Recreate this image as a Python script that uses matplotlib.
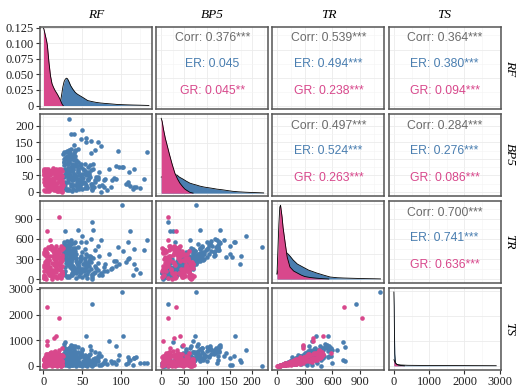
import matplotlib
matplotlib.use('Agg')
import matplotlib.pyplot as plt
from matplotlib.ticker import FixedLocator

plt.rcParams['font.family'] = ['Liberation Serif', 'DejaVu Serif']

# ---------------- data ----------------
variables = ['RF', 'BP5', 'TR', 'TS']
pink = '#D8488C'
blue = '#4A7EB0'
gray_txt = '#6B6B6B'

# ER group (blue)
er_rf = [26, 28, 31, 33, 35, 37, 39, 41, 43, 45,
         27, 29, 30, 32, 34, 36, 38, 40, 42, 44,
         46, 48, 50, 52, 54, 56, 58, 60, 62, 64,
         26, 30, 34, 38, 42, 47, 51, 55, 59, 63,
         27, 31, 35, 39, 44, 49, 53, 57, 61, 66,
         29, 33, 37, 41, 45, 50, 55, 60, 65, 68,
         28, 32, 36, 40, 46, 52, 57, 62, 70, 75,
         26, 29, 33, 37, 43, 48, 54, 59, 72, 78,
         25.5, 27.5, 29.5, 31.5, 33.5, 35.5, 37.5, 39.5, 41.5, 43.5,
         25.8, 28.5, 30.5, 32.5, 34.5, 36.5, 38.5, 40.5, 42.5, 46.5,
         26.2, 28.2, 31.2, 33.2, 35.2, 37.2, 39.2, 41.2, 44.2, 48.5,
         27, 29, 31, 33, 36, 38, 40, 43, 47, 51,
         26.5, 30, 34, 37, 41, 45, 49, 53, 56, 58,
         28, 32, 35, 39, 42, 46, 50, 54, 58, 63,
         101, 62, 33, 35, 39, 50, 55, 61, 70, 74, 96, 133, 61, 67, 85, 93, 98,
         103, 117, 130, 91, 93, 109, 111, 117, 119, 78, 82, 74, 87, 72, 70, 67,
         80, 89, 61, 109, 106, 28, 35, 64, 110, 45, 40, 48, 55, 30, 116, 124]
er_bp5 = [120, 15, 95, 60, 130, 35, 80, 110, 20, 70,
          45, 105, 5, 85, 115, 25, 65, 100, 40, 90,
          10, 75, 55, 30, 85, 15, 60, 45, 25, 70,
          80, 125, 50, 10, 95, 35, 70, 20, 50, 5,
          100, 30, 75, 118, 60, 85, 12, 40, 65, 30,
          55, 90, 20, 125, 40, 8, 50, 80, 15, 45,
          70, 45, 108, 55, 25, 65, 35, 10, 40, 22,
          90, 60, 128, 2, 78, 48, 28, 58, 18, 35,
          65, 10, 100, 40, 125, 75, 20, 55, 88, 30,
          115, 50, 85, 5, 105, 62, 35, 128, 48, 15,
          90, 30, 70, 112, 18, 98, 45, 78, 60, 25,
          52, 122, 8, 92, 38, 68, 108, 14, 80, 42,
          28, 58, 118, 85, 22, 65, 35, 55, 12, 75,
          102, 72, 45, 95, 5, 50, 28, 62, 40, 18,
          76, 16, 221, 174, 175, 187, 163, 155, 151, 138, 125, 122, 118, 128, 70, 79, 76,
          74, 70, 40, 43, 40, 23, 19, 14, 16, 16, 6, 1, 14, 60, 45, 36,
          40, 36, 25, 30, 25, 25, 63, 85, 60, 130, 143, 160, 150, 110, 10, 12]
er_tr = [480, 120, 300, 420, 540, 60, 380, 420, 250, 200,
         300, 510, 40, 280, 350, 180, 460, 330, 90, 480,
         150, 300, 400, 130, 450, 20, 250, 350, 80, 320,
         520, 440, 180, 90, 380, 270, 150, 190, 280, 10,
         560, 230, 420, 360, 120, 340, 60, 200, 260, 110,
         330, 500, 150, 470, 240, 30, 210, 300, 100, 170,
         390, 380, 530, 160, 50, 230, 130, 40, 140, 70,
         410, 300, 550, 100, 260, 310, 160, 200, 60, 120,
         330, 60, 450, 220, 510, 280, 120, 380, 320, 150,
         400, 240, 470, 30, 380, 300, 200, 560, 280, 90,
         350, 180, 420, 500, 70, 430, 170, 360, 210, 110,
         330, 480, 50, 290, 260, 190, 540, 140, 310, 230,
         100, 270, 420, 390, 160, 250, 130, 310, 80, 340,
         460, 250, 300, 400, 20, 180, 150, 280, 120, 60,
         1110, 850, 477, 231, 354, 649, 551, 329, 500, 580, 477, 590, 600, 430, 380, 280, 230,
         420, 453, 430, 280, 200, 305, 713, 231, 160, 180, 120, 90, 150, 350, 250, 200,
         230, 170, 150, 551, 260, 713, 585, 740, 320, 733, 329, 560, 380, 575, 60, 100]
er_ts = [700, 80, 350, 180, 820, 20, 600, 450, 150, 300,
         420, 380, 30, 250, 520, 60, 780, 200, 110, 550,
         90, 500, 650, 160, 300, 10, 380, 760, 40, 260,
         850, 620, 220, 50, 480, 330, 130, 70, 410, 5,
         720, 180, 560, 640, 150, 420, 40, 280, 200, 90,
         580, 690, 120, 400, 350, 15, 260, 470, 60, 200,
         530, 300, 780, 230, 30, 350, 100, 25, 180, 60,
         680, 440, 600, 120, 310, 520, 210, 150, 50, 100,
         400, 40, 600, 180, 700, 250, 90, 520, 300, 120,
         480, 160, 650, 20, 330, 420, 150, 780, 350, 50,
         280, 220, 540, 620, 40, 380, 120, 500, 170, 80,
         450, 560, 30, 240, 300, 110, 700, 90, 440, 200,
         60, 330, 500, 320, 140, 210, 70, 430, 50, 260,
         610, 180, 380, 300, 10, 140, 90, 360, 60, 30,
         2890, 2400, 12, 233, 156, 623, 1170, 50, 300, 400, 233, 105, 620, 560, 973, 790, 428,
         1180, 300, 105, 150, 80, 100, 220, 300, 350, 150, 60, 40, 200, 500, 380, 300,
         250, 120, 100, 350, 90, 947, 700, 210, 240, 752, 500, 400, 50, 623, 30, 120]

# GR group (pink)
gr_rf = [1, 13, 7, 19, 4, 22, 10, 16, 2, 24, 8, 14, 5, 20, 11, 17,
         0.5, 23, 9, 15, 3, 21, 12, 18, 6, 24.5, 1.5, 13.5, 7.5, 19.5, 4.5, 22.5,
         10.5, 16.5, 2.5, 23.5, 8.5, 14.5, 5.5, 20.5, 11.5, 17.5, 0.2, 22, 9.5, 15.5,
         3.5, 21.5, 12.5, 18.5, 6.5, 24, 1, 12, 6, 18, 3, 15, 9, 21, 0.8, 24.8, 11, 16,
         2, 8, 14, 20, 24, 5, 11, 17, 23, 0.5, 6.5, 12.5, 18.5, 22.5, 3, 9, 15, 21, 1.2, 7,
         13, 19, 24, 4, 10, 16, 22, 2, 8.5, 14.5, 20.5, 0.6, 6, 12, 18, 23.5, 3.5, 9.5, 15.5,
         21.5, 1.8, 7.8, 13.8, 19.8, 24.2, 5, 11, 17, 22.8, 0.3,
         5, 20, 15.6, 14, 5, 4.8, 24, 20, 9]
gr_bp5 = [5, 40, 22, 60, 12, 50, 30, 68, 2, 35, 55, 18, 45, 8, 65, 28,
          38, 10, 62, 25, 52, 3, 42, 15, 70, 48, 20, 58, 6, 33, 64, 27,
          14, 46, 57, 1, 36, 66, 24, 54, 9, 44, 30, 62, 19, 50,
          41, 16, 71, 4, 59, 29, 67, 34, 11, 47, 23, 63, 39, 7, 55, 21, 32, 58,
          25, 62, 8, 44, 15, 56, 33, 3, 68, 50, 12, 38, 66, 27, 70, 19, 52, 36, 59, 2,
          30, 10, 64, 42, 17, 6, 48, 34, 60, 26, 9, 68, 40, 22, 54, 3, 46, 30, 14,
          62, 37, 51, 5, 69, 28, 18, 57, 44, 11, 63,
          33, 14, 41, 27, 4, 47, 20, 35, 14]
gr_tr = [50, 300, 150, 420, 220, 80, 480, 260, 30, 360, 180, 440, 120, 330, 10, 240,
         400, 190, 70, 470, 280, 140, 350, 20, 230, 100, 450, 310, 60, 390, 170, 500,
         250, 40, 380, 130, 460, 210, 90, 320, 430, 160, 15, 270, 490, 110,
         340, 200, 55, 410, 290, 75, 180, 440, 130, 360, 5, 250, 100, 300, 210, 470, 35, 150,
         260, 120, 410, 60, 330, 200, 470, 150, 20, 380, 290, 90, 230, 440, 170, 350, 45, 310,
         130, 460, 210, 400, 80, 270, 500, 190, 30, 430, 110, 360, 250, 60, 480, 140, 320,
         200, 420, 100, 280, 40, 370, 160, 450, 230, 70, 340, 120, 390, 260, 15,
         720, 925, 495, 394, 394, 285, 285, 450, 585]
gr_ts = [30, 320, 60, 500, 150, 90, 350, 280, 10, 200, 170, 560, 40, 420, 5, 120,
         260, 230, 70, 600, 100, 160, 450, 15, 280, 50, 330, 180, 20, 480, 90, 420,
         330, 20, 150, 110, 520, 60, 100, 380, 240, 190, 8, 200, 560, 70,
         400, 140, 45, 300, 360, 25, 220, 470, 140, 250, 3, 80, 120, 230, 260, 380, 30, 50,
         180, 60, 250, 30, 410, 90, 300, 170, 10, 220, 340, 40, 140, 380, 110, 200, 25, 400,
         60, 330, 120, 520, 50, 230, 450, 80, 15, 280, 90, 440, 160, 35, 350, 100, 250,
         190, 480, 70, 310, 20, 260, 130, 390, 200, 40, 450, 60, 300, 190, 8,
         2280, 1880, 1160, 1076, 985, 817, 690, 623, 500]

# density curves
gr_rf_dx = [0, 0.5, 2, 4, 5, 7, 9, 11, 13, 15, 18, 21, 23, 24.5, 25.5]
gr_rf_dy = [0.124, 0.123, 0.115, 0.104, 0.097, 0.070, 0.048, 0.035, 0.029, 0.024,
            0.018, 0.011, 0.005, 0.001, 0]
er_rf_dx = [19, 21, 22, 23, 24, 25, 26.5, 28, 29.5, 31, 33, 35, 38, 41, 44, 48, 52, 57,
            62, 68, 74, 80, 88, 96, 105, 115, 125, 133, 136]
er_rf_dy = [0, 0.002, 0.007, 0.014, 0.022, 0.030, 0.038, 0.042, 0.044, 0.043, 0.038,
            0.032, 0.026, 0.021, 0.018, 0.015, 0.012, 0.008, 0.0065, 0.005, 0.004,
            0.0033, 0.0025, 0.0016, 0.0012, 0.0008, 0.0005, 0.0002, 0]
gr_bp5_dx = [0, 2, 5, 9, 13, 18, 24, 30, 36, 41, 47, 52, 57, 63, 70]
gr_bp5_dy = [75, 72, 64, 55, 48, 39, 29, 20, 14, 10, 6.5, 4, 2.5, 0.8, 0]
er_bp5_dx = [0, 10, 20, 30, 35, 40, 48, 55, 63, 70, 78, 85, 95, 105, 115, 122, 135, 145,
             157, 170, 185, 200, 215, 225]
er_bp5_dy = [16, 18, 19, 18.5, 18, 16, 14, 12, 10, 9, 8, 7, 6, 5.3, 4.6, 4, 3.3, 2.6,
             1.8, 1.3, 0.9, 0.6, 0.4, 0.2]
gr_tr_dx = [0, 10, 20, 30, 38, 55, 65, 90, 110, 140, 180, 220, 260, 300, 360, 430, 500, 560]
gr_tr_dy = [5, 30, 55, 72, 74, 62, 52, 35, 22, 12, 8, 6, 4, 2.5, 1.5, 0.8, 0.3, 0]
er_tr_dx = [0, 30, 60, 90, 110, 140, 175, 220, 280, 340, 430, 500, 575, 650, 720, 790,
            870, 950, 1050, 1120]
er_tr_dy = [5, 15, 22, 26, 26, 23, 19, 15, 12, 9, 6, 4, 2, 1.3, 1, 0.8, 0.6, 0.4, 0.25, 0.1]
gr_ts_dx = [0, 10, 25, 50, 80, 120, 200, 300]
gr_ts_dy = [6, 5.5, 4, 2.5, 1.5, 0.8, 0.3, 0]
er_ts_dx = [0, 8, 15, 25, 40, 60, 100, 200, 400, 700, 1000, 1500, 2000, 2500, 2900]
er_ts_dy = [74, 60, 35, 12, 4, 2, 1.2, 0.8, 0.5, 0.4, 0.3, 0.25, 0.2, 0.15, 0.1]

# correlation texts (upper triangle)
corr_text = {(0, 1): ('0.376***', '0.045', '0.045**'),
             (0, 2): ('0.539***', '0.494***', '0.238***'),
             (0, 3): ('0.364***', '0.380***', '0.094***'),
             (1, 2): ('0.497***', '0.524***', '0.263***'),
             (1, 3): ('0.284***', '0.276***', '0.086***'),
             (2, 3): ('0.700***', '0.741***', '0.636***')}

# ---------------- layout ----------------
W, H = 528, 392
lims = {'RF': (-4.5, 140), 'BP5': (-11, 235), 'TR': (-50, 1162), 'TS': (-150, 3025)}
majors = {'RF': [0, 50, 100], 'BP5': [0, 50, 100, 150, 200], 'TR': [0, 300, 600, 900],
          'TS': [0, 1000, 2000, 3000]}
minors = {'RF': [25, 75, 125], 'BP5': [25, 75, 125, 175, 225], 'TR': [150, 450, 750, 1050],
          'TS': [500, 1500, 2500]}
diag_ylim = {0: (-0.0048, 0.1262), 1: (-2.5, 79.2), 2: (-3.7, 78.0), 3: (-4.0, 77.7)}
diag_major = {0: [0, 0.025, 0.05, 0.075, 0.1, 0.125], 1: [0, 25, 50, 75],
              2: [0, 25, 50, 75], 3: [0, 25, 50, 75]}

data_er = {'RF': er_rf, 'BP5': er_bp5, 'TR': er_tr, 'TS': er_ts}
data_gr = {'RF': gr_rf, 'BP5': gr_bp5, 'TR': gr_tr, 'TS': gr_ts}
dens = {0: (er_rf_dx, er_rf_dy, gr_rf_dx, gr_rf_dy),
        1: (er_bp5_dx, er_bp5_dy, gr_bp5_dx, gr_bp5_dy),
        2: (er_tr_dx, er_tr_dy, gr_tr_dx, gr_tr_dy),
        3: (er_ts_dx, er_ts_dy, gr_ts_dx, gr_ts_dy)}

sans = ['Liberation Sans', 'DejaVu Sans']

fig = plt.figure(figsize=(W / 100, H / 100), dpi=100)
fig.patch.set_facecolor('white')

pw, ph = 112, 81.5
for r in range(4):
    for c in range(4):
        left = 40 + 116.2 * c
        top = 27 + 87.1 * r
        ax = fig.add_axes([left / W, 1 - (top + ph) / H, pw / W, ph / H])
        vx, vy = variables[c], variables[r]
        ax.set_xlim(*lims[vx])
        if r == c:
            ax.set_ylim(*diag_ylim[r])
            ymaj = diag_major[r]
            ymin_ = []
        else:
            ax.set_ylim(*lims[vy])
            ymaj = majors[vy]
            ymin_ = minors[vy]
        # grid
        for g in majors[vx]:
            ax.axvline(g, color='#EBEBEB', lw=0.6, zorder=0)
        for g in minors[vx]:
            ax.axvline(g, color='#F4F4F4', lw=0.4, zorder=0)
        for g in ymaj:
            ax.axhline(g, color='#EBEBEB', lw=0.6, zorder=0)
        for g in ymin_:
            ax.axhline(g, color='#F4F4F4', lw=0.4, zorder=0)

        if r == c:
            ex, ey, gx, gy = dens[r]
            ax.fill_between(ex, 0, ey, color=blue, lw=0, zorder=2)
            ax.plot(ex, ey, color='black', lw=0.6, zorder=3)
            ax.fill_between(gx, 0, gy, color=pink, lw=0, zorder=4)
            ax.plot(gx, gy, color='black', lw=0.6, zorder=5)
        elif r > c:
            ax.scatter(data_er[vx], data_er[vy], s=11, color=blue, lw=0, zorder=2)
            ax.scatter(data_gr[vx], data_gr[vy], s=11, color=pink, lw=0, zorder=3)
        else:
            t = corr_text[(r, c)]
            ax.text(0.5, 0.86, 'Corr: ' + t[0], transform=ax.transAxes, ha='center',
                    va='center', color=gray_txt, fontsize=8.8, family=sans)
            ax.text(0.5, 0.545, 'ER: ' + t[1], transform=ax.transAxes, ha='center',
                    va='center', color=blue, fontsize=8.8, family=sans)
            ax.text(0.5, 0.22, 'GR: ' + t[2], transform=ax.transAxes, ha='center',
                    va='center', color=pink, fontsize=8.8, family=sans)

        for s in ax.spines.values():
            s.set_color('#555555')
            s.set_linewidth(1.1)
        ax.tick_params(length=3, width=0.8, colors='#333333', labelcolor='#222222',
                       labelsize=9, pad=1.5)
        if r == 3:
            ax.xaxis.set_major_locator(FixedLocator(majors[vx]))
            ax.set_xticklabels([str(v) for v in majors[vx]])
        else:
            ax.set_xticks([])
        if c == 0:
            if r == 0:
                ax.yaxis.set_major_locator(FixedLocator(diag_major[0]))
                ax.set_yticklabels(['0', '0.025', '0.050', '0.075', '0.100', '0.125'])
            else:
                ax.yaxis.set_major_locator(FixedLocator(majors[vy]))
                ax.set_yticklabels([str(v) for v in majors[vy]])
        else:
            ax.set_yticks([])

        if r == 0:
            ax.text(0.5, 1.0 + 12.5 / ph, vx, transform=ax.transAxes, ha='center',
                    va='center', fontsize=9.5, style='italic')
        if c == 3:
            ax.text(1.0 + 9 / pw, 0.5, vy, transform=ax.transAxes, ha='center',
                    va='center', fontsize=9.5, style='italic', rotation=-90)

fig.savefig('out.png', dpi=100, facecolor='white')
